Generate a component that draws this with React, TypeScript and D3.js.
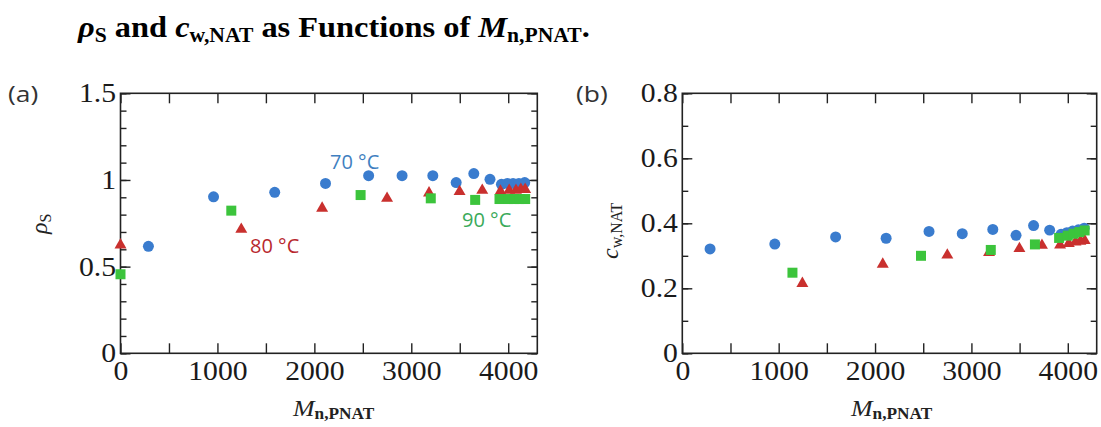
import React, { useEffect, useRef } from "react";
import * as d3 from "d3";

// ---- data ----
const mn70 = [288, 960, 1591, 2115, 2560, 2905, 3222, 3463, 3645, 3812, 3930, 3990, 4050, 4110, 4170];
const rho70 = [0.617, 0.903, 0.929, 0.98, 1.025, 1.025, 1.025, 0.985, 1.037, 1.004, 0.975, 0.98, 0.98, 0.98, 0.985];
const cw70 = [0.321, 0.336, 0.358, 0.354, 0.375, 0.368, 0.381, 0.363, 0.393, 0.379, 0.366, 0.371, 0.376, 0.38, 0.385];

const mn80 = [0, 1246, 2080, 2750, 3183, 3498, 3732, 3920, 4010, 4080, 4130, 4175];
const rho80 = [0.625, 0.715, 0.837, 0.894, 0.925, 0.933, 0.94, 0.935, 0.94, 0.94, 0.945, 0.945];
const cw80 = [NaN, 0.215, 0.274, 0.302, 0.31, 0.322, 0.332, 0.333, 0.338, 0.342, 0.345, 0.347];

const mn90 = [0, 1143, 2477, 3201, 3659, 3910, 4000, 4060, 4120, 4175];
const rho90 = [0.456, 0.823, 0.913, 0.894, 0.885, 0.89, 0.89, 0.89, 0.89, 0.89];
const cw90 = [NaN, 0.248, 0.3, 0.318, 0.335, 0.355, 0.362, 0.368, 0.373, 0.378];

const xTicksMajor = [0, 1000, 2000, 3000, 4000];
const xTicksAll = [0, 500, 1000, 1500, 2000, 2500, 3000, 3500, 4000];
const yTicksA = [0, 0.5, 1, 1.5];
const yTicksB = [0, 0.2, 0.4, 0.6, 0.8];

const BLUE = "#3a7cce";
const RED = "#c9302e";
const GREEN = "#3cc43c";

const serif = "'Liberation Serif', 'Times New Roman', serif";
const sans = "'Open Sans', 'Noto Sans', sans-serif";

export default function App() {
  const ref = useRef<SVGGElement>(null);

  useEffect(() => {
    const root = d3.select(ref.current);
    root.selectAll("*").remove();

    const top = 93.3, bottom = 353.3;

    const panels = [
      {
        x: d3.scaleLinear().domain([0, 4300]).range([120.5, 537.3]),
        y: d3.scaleLinear().domain([0, 1.5]).range([bottom, top]),
        yMajor: yTicksA,
        yMinor: d3.range(0, 16).map((i) => i / 10),
        yFmt: (d: number) => String(d),
        series: [
          { mn: mn70, v: rho70, sym: d3.symbolCircle, size: 95, color: BLUE },
          { mn: mn80, v: rho80, sym: d3.symbolTriangle, size: 62, color: RED },
          { mn: mn90, v: rho90, sym: d3.symbolSquare, size: 100, color: GREEN },
        ],
      },
      {
        x: d3.scaleLinear().domain([0, 4300]).range([682.3, 1096.7]),
        y: d3.scaleLinear().domain([0, 0.8]).range([bottom, top]),
        yMajor: yTicksB,
        yMinor: d3.range(0, 9).map((i) => i / 10),
        yFmt: (d: number) => (d === 0 ? "0" : d3.format(".1f")(d)),
        series: [
          { mn: mn70, v: cw70, sym: d3.symbolCircle, size: 95, color: BLUE },
          { mn: mn80, v: cw80, sym: d3.symbolTriangle, size: 62, color: RED },
          { mn: mn90, v: cw90, sym: d3.symbolSquare, size: 100, color: GREEN },
        ],
      },
    ];

    panels.forEach((p) => {
      const g = root.append("g");
      const [x0, x1] = p.x.range();
      const styleAxis = (sel: any) => {
        sel.select(".domain").remove();
        sel.selectAll(".tick line").attr("stroke", "#222").attr("stroke-width", 1.4);
        sel.selectAll("text")
          .attr("font-family", serif)
          .attr("font-size", 27)
          .attr("fill", "#1a1a1a")
          .attr("transform", "scale(1.1,1)");
      };

      g.append("g").attr("transform", `translate(0,${bottom})`)
        .call(d3.axisBottom(p.x).tickValues(xTicksAll).tickSize(-10).tickPadding(8)
          .tickFormat((d: any) => (xTicksMajor.includes(d) ? String(d) : "")))
        .call(styleAxis);
      g.append("g").attr("transform", `translate(0,${top})`)
        .call(d3.axisTop(p.x).tickValues(xTicksAll).tickSize(-10).tickFormat(() => ""))
        .call(styleAxis);
      g.append("g").attr("transform", `translate(${x0},0)`)
        .call(d3.axisLeft(p.y).tickValues(p.yMinor).tickSize(-6).tickFormat(() => ""))
        .call(styleAxis);
      g.append("g").attr("transform", `translate(${x0},0)`)
        .call(d3.axisLeft(p.y).tickValues(p.yMajor).tickSize(-10).tickPadding(4).tickFormat(p.yFmt as any))
        .call(styleAxis);
      g.append("g").attr("transform", `translate(${x1},0)`)
        .call(d3.axisRight(p.y).tickValues(p.yMinor).tickSize(-6).tickFormat(() => ""))
        .call(styleAxis);
      g.append("g").attr("transform", `translate(${x1},0)`)
        .call(d3.axisRight(p.y).tickValues(p.yMajor).tickSize(-10).tickFormat(() => ""))
        .call(styleAxis);

      g.append("rect")
        .attr("x", x0).attr("y", top)
        .attr("width", x1 - x0).attr("height", bottom - top)
        .attr("fill", "none").attr("stroke", "#222").attr("stroke-width", 1.6);

      p.series.forEach((s) => {
        const pts = s.mn.map((m, i) => ({ m, v: s.v[i] })).filter((d) => !isNaN(d.v));
        g.append("g").selectAll("path").data(pts).enter().append("path")
          .attr("d", d3.symbol().type(s.sym).size(s.size)() as string)
          .attr("transform", (d) => `translate(${p.x(d.m)},${p.y(d.v)})`)
          .attr("fill", s.color);
      });
    });
  }, []);

  return (
    <svg width={1101} height={427} style={{ position: "absolute", left: 0, top: 0, background: "#fff" }}>
      {/* title */}
      <text transform="translate(78,37) scale(1.08,1)" fontFamily={serif} fontWeight="bold" fontSize={30} fill="#000">
        <tspan fontStyle="italic">ρ</tspan>
        <tspan fontSize={20} dy={5}>S</tspan>
        <tspan dy={-5}> and </tspan>
        <tspan fontStyle="italic">c</tspan>
        <tspan fontSize={20} dy={5}>w,NAT</tspan>
        <tspan dy={-5}> as Functions of </tspan>
        <tspan fontStyle="italic">M</tspan>
        <tspan fontSize={20} dy={5}>n,PNAT</tspan>
        <tspan dy={-5}>.</tspan>
      </text>

      {/* panel labels */}
      <text transform="translate(8,102) scale(1.2,1)" fontFamily={sans} fontSize={22} fill="#333">(a)</text>
      <text transform="translate(576,102) scale(1.2,1)" fontFamily={sans} fontSize={22} fill="#333">(b)</text>

      {/* y-axis titles */}
      <text transform="translate(47,234) rotate(-90)" fontFamily={serif} fontSize={24} fill="#222">
        <tspan fontStyle="italic">ρ</tspan>
        <tspan fontSize={16} dy={4}>S</tspan>
      </text>
      <text transform="translate(618,259) rotate(-90)" fontFamily={serif} fontSize={24} fill="#222">
        <tspan fontStyle="italic">c</tspan>
        <tspan fontSize={16} dy={4}>w,NAT</tspan>
      </text>

      {/* x-axis titles */}
      <text transform="translate(293,416) scale(1.08,1)" fontFamily={serif} fontSize={24} fill="#222">
        <tspan fontStyle="italic">M</tspan>
        <tspan fontSize={16} dy={3} fontWeight="bold">n,PNAT</tspan>
      </text>
      <text transform="translate(851,416) scale(1.08,1)" fontFamily={serif} fontSize={24} fill="#222">
        <tspan fontStyle="italic">M</tspan>
        <tspan fontSize={16} dy={3} fontWeight="bold">n,PNAT</tspan>
      </text>

      {/* annotations */}
      <text x={330} y={169} fontFamily={sans} fontSize={20} fill="#3f7fc0">70 °C</text>
      <text x={250} y={253} fontFamily={sans} fontSize={20} fill="#b8282e">80 °C</text>
      <text x={462} y={227} fontFamily={sans} fontSize={20} fill="#3aaa5a">90 °C</text>

      <g ref={ref} />
    </svg>
  );
}
